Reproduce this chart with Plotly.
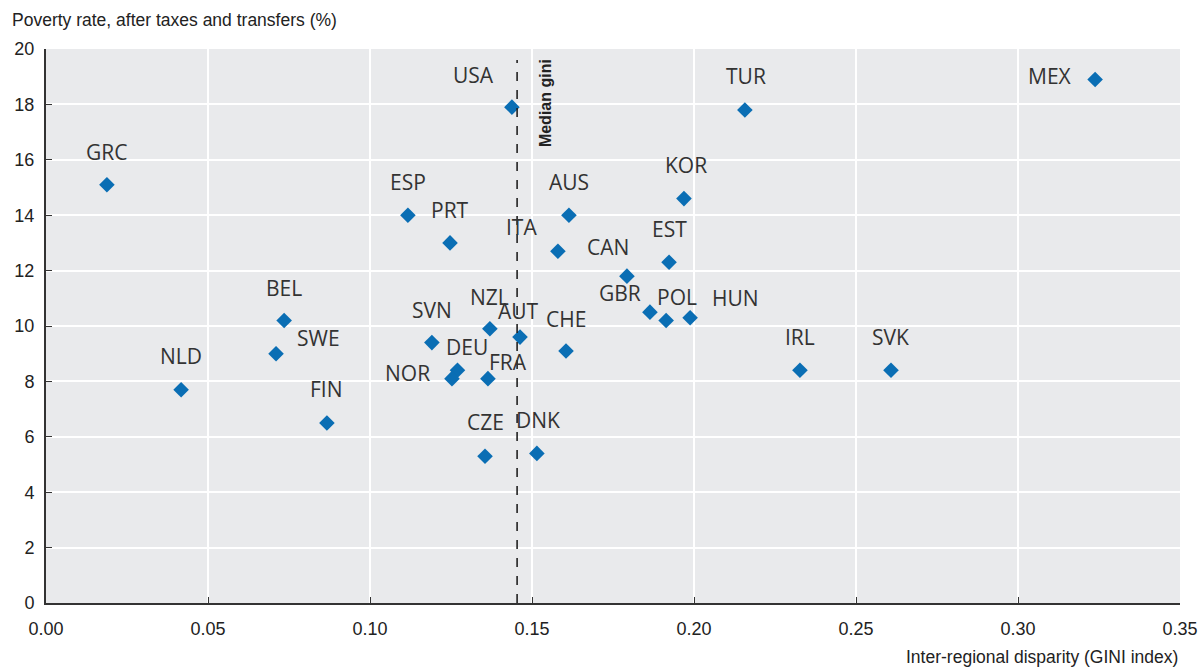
import plotly.graph_objects as go

countries = ["GRC", "NLD", "BEL", "SWE", "FIN", "ESP", "PRT", "SVN", "NZL", "AUT",
             "DEU", "NOR", "FRA", "CZE", "DNK", "CHE", "USA", "ITA", "AUS", "CAN",
             "GBR", "EST", "KOR", "POL", "HUN", "TUR", "IRL", "SVK", "MEX"]
gini = [0.0188, 0.0417, 0.0735, 0.0710, 0.0867, 0.1117, 0.1247, 0.1191, 0.1370, 0.1463,
        0.1270, 0.1253, 0.1364, 0.1355, 0.1515, 0.1605, 0.1438, 0.1580, 0.1614, 0.1793,
        0.1864, 0.1923, 0.1969, 0.1914, 0.1988, 0.2157, 0.2327, 0.2608, 0.3238]
poverty = [15.1, 7.7, 10.2, 9.0, 6.5, 14.0, 13.0, 9.4, 9.9, 9.6,
           8.4, 8.1, 8.1, 5.3, 5.4, 9.1, 17.9, 12.7, 14.0, 11.8,
           10.5, 12.3, 14.6, 10.2, 10.3, 17.8, 8.4, 8.4, 18.9]
median_gini = 0.1454

# label offsets in pixels (dx, dy)
offsets = {
    "USA": (-38, 32), "TUR": (1, 34), "MEX": (-45, 3), "GRC": (0, 33), "ESP": (0, 33),
    "PRT": (0, 33), "AUS": (0, 33), "KOR": (2, 34), "ITA": (-36, 24), "EST": (0, 33),
    "CAN": (-19, 29), "BEL": (0, 32), "SVN": (0, 33), "NZL": (0, 32), "AUT": (-2, 26),
    "CHE": (0, 32), "GBR": (-30, 19), "POL": (11, 23), "HUN": (45, 20), "NLD": (0, 34),
    "SWE": (42, 16), "DEU": (10, 23), "NOR": (-44, 6), "FRA": (20, 17), "FIN": (0, 34),
    "CZE": (0, 34), "DNK": (1, 33), "IRL": (0, 33), "SVK": (0, 33),
}

fig = go.Figure()
fig.add_trace(go.Scatter(
    x=gini, y=poverty, mode="markers", text=countries,
    marker=dict(symbol="diamond", size=12, color="#0a6eb4"),
    hovertemplate="%{text}: %{x}, %{y}<extra></extra>",
))

annotations = []
for c, x, y in zip(countries, gini, poverty):
    dx, dy = offsets[c]
    annotations.append(dict(
        x=x, y=y, xref="x", yref="y", text=c, showarrow=False,
        xshift=dx, yshift=dy,
        font=dict(family="Open Sans, sans-serif", size=21, color="#333333"),
    ))

sans = "Liberation Sans, Arial, sans-serif"
annotations.append(dict(
    x=median_gini, y=18.05, xref="x", yref="y", text="<b>Median gini</b>",
    showarrow=False, textangle=-90, xshift=28,
    font=dict(family=sans, size=16, color="#222222"),
))
annotations.append(dict(
    x=0.0, y=1.052, xref="paper", yref="paper", xanchor="left", yanchor="middle",
    xshift=-36, text="Poverty rate, after taxes and transfers (%)", showarrow=False,
    font=dict(family=sans, size=17.5, color="#222222"),
))
annotations.append(dict(
    x=1.0, y=-0.0975, xref="paper", yref="paper", xanchor="right", yanchor="middle",
    text="Inter-regional disparity (GINI index)", showarrow=False,
    font=dict(family=sans, size=17.5, color="#222222"),
))

fig.add_shape(type="line", x0=median_gini, x1=median_gini, y0=0, y1=19.6,
              xref="x", yref="y", line=dict(color="#222222", width=1.6, dash="dash"))

tickfont = dict(family=sans, size=18, color="#222222")
fig.update_layout(
    width=1198, height=668,
    margin=dict(l=46, r=18, t=49, b=65, autoexpand=False),
    paper_bgcolor="white", plot_bgcolor="#e9eaec",
    showlegend=False,
    annotations=annotations,
    xaxis=dict(range=[0, 0.35], dtick=0.05, tickformat=".2f", showgrid=True,
               gridcolor="white", gridwidth=2, zeroline=False, showline=True,
               linecolor="#333333", linewidth=2, ticks="inside", ticklen=6,
               tickcolor="#333333", tickfont=tickfont, ticklabelstandoff=8,
               automargin=False),
    yaxis=dict(range=[0, 20], dtick=2, showgrid=True, gridcolor="white", gridwidth=2,
               zeroline=False, showline=True, linecolor="#333333", linewidth=2,
               ticks="inside", ticklen=6, tickcolor="#333333", tickfont=tickfont,
               ticklabelstandoff=6, automargin=False),
)

fig.write_html("out.html", config={"displayModeBar": False},
               post_script="document.body.style.margin='0';document.body.style.overflow='hidden';")
